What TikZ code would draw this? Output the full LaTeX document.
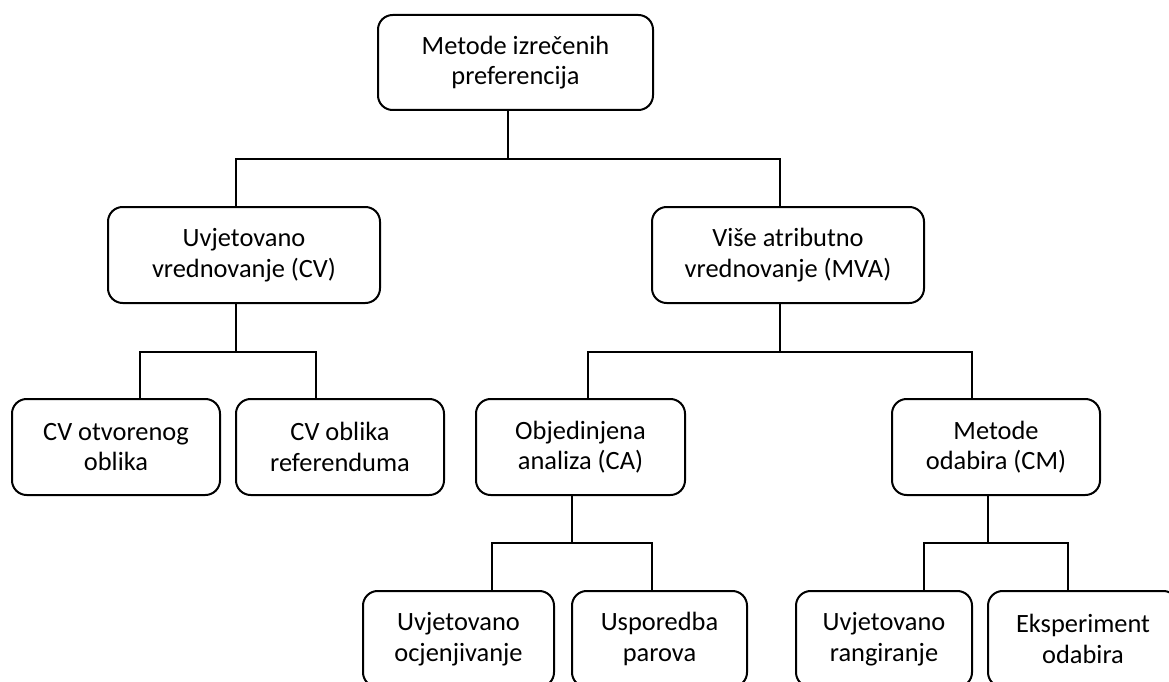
\documentclass[tikz,border=0pt]{standalone}
\usepackage{fontspec}
\setmainfont{Carlito}
\begin{document}
\begin{tikzpicture}[x=0.75pt,y=-0.75pt,
  box/.style={draw=black, line width=1.5pt, rounded corners=11pt, align=center,
    inner sep=0pt, font=\fontsize{19.8}{22.8}\selectfont, text=black},
  conn/.style={draw=black, line width=1.3pt}]
\clip (0,0) rectangle (1169,681);
\fill[white] (0,0) rectangle (1169,681);
% nodes
\node[box, minimum width=206.25pt, minimum height=71.25pt] (top) at (515.5,62.5) {Metode izrečenih\\preferencija};
\node[box, minimum width=204pt, minimum height=72pt] (CV) at (244,255) {Uvjetovano\\vrednovanje (CV)};
\node[box, minimum width=204pt, minimum height=72pt] (MVA) at (788,255) {Više atributno\\vrednovanje (MVA)};
\node[box, minimum width=156pt, minimum height=72pt] (CVo) at (116,447) {CV otvorenog\\oblika};
\node[box, minimum width=156pt, minimum height=72pt] (CVr) at (340,447) {CV oblika\\referenduma};
\node[box, minimum width=156.75pt, minimum height=72pt] (CA) at (580.5,447) {Objedinjena\\analiza (CA)};
\node[box, minimum width=156pt, minimum height=72pt] (CM) at (996,447) {Metode\\odabira (CM)};
\node[box, minimum width=143.25pt, minimum height=72pt] (UO) at (458.5,639) {Uvjetovano\\ocjenjivanje};
\node[box, minimum width=131.25pt, minimum height=72pt] (UP) at (659.5,639) {Usporedba\\parova};
\node[box, minimum width=132pt, minimum height=72pt] (UR) at (884,639) {Uvjetovano\\rangiranje};
\node[box, minimum width=142.5pt, minimum height=72pt] (EO) at (1083,639) {Eksperiment\\odabira};
% junctions
\coordinate (j1) at (508,159);
\coordinate (j2) at (236,352);
\coordinate (j3) at (780,352);
\coordinate (j4) at (572,543);
\coordinate (j5) at (988,543);
% connectors
\draw[conn] (top.south -| j1) -- (j1);
\draw[conn] (CV.north -| 236,0) |- (j1) -| (MVA.north -| 780,0);
\draw[conn] (CV.south -| j2) -- (j2);
\draw[conn] (CVo.north -| 140,0) |- (j2) -| (CVr.north -| 316,0);
\draw[conn] (MVA.south -| j3) -- (j3);
\draw[conn] (CA.north -| 588,0) |- (j3) -| (CM.north -| 972,0);
\draw[conn] (CA.south -| j4) -- (j4);
\draw[conn] (UO.north -| 492,0) |- (j4) -| (UP.north -| 652,0);
\draw[conn] (CM.south -| j5) -- (j5);
\draw[conn] (UR.north -| 924,0) |- (j5) -| (EO.north -| 1068,0);
\end{tikzpicture}
\end{document}
